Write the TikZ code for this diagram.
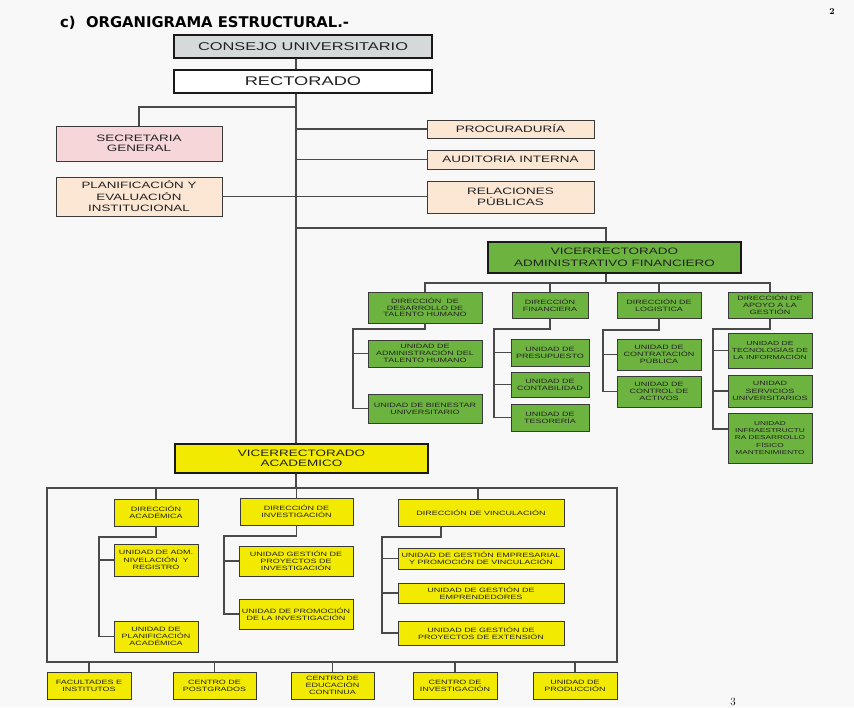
\documentclass[tikz,border=0pt]{standalone}
\usepackage{fontspec}
\newfontfamily\wf[FakeStretch=1.45]{Liberation Sans}
\newfontfamily\titlefont{DejaVu Sans}
\newcommand\myfs[2]{\fontsize{#1}{#2}\selectfont}
\definecolor{bgcol}{HTML}{F8F8F8}
\definecolor{lncol}{HTML}{4A4A4A}
\definecolor{bdcol}{HTML}{3A3A3A}
\definecolor{txcol}{HTML}{222222}
\definecolor{cgray}{HTML}{D5D9D9}
\definecolor{cpink}{HTML}{F6D6D9}
\definecolor{cpeach}{HTML}{FCE6D4}
\definecolor{cgreen}{HTML}{6DB33F}
\definecolor{cyellow}{HTML}{F2EA00}
\tikzset{
  ln/.style={draw=lncol, line width=1.1pt},
  bx/.style={draw=bdcol, line width=0.9pt, inner sep=0.5pt, align=center, text=txcol, font=\wf\myfs{6.2}{7.2}},
  bigbx/.style={bx, draw=black!90, line width=1.8pt},
  gr/.style={bx, fill=cgreen},
  ye/.style={bx, fill=cyellow},
  pk/.style={bx, fill=cpink, font=\wf\myfs{9.3}{10.5}},
  pc/.style={bx, fill=cpeach, font=\wf\myfs{9.3}{10.5}},
}
\begin{document}
\begin{tikzpicture}[x=1pt,y=-1pt]
\fill[bgcol] (0,0) rectangle (854,707);
\useasboundingbox (0,0) rectangle (854,707);

% title and page numbers
\node[anchor=west, inner sep=0pt, font=\titlefont\bfseries\myfs{14.8}{16}] (title) at (60,23) {c)\ \ ORGANIGRAMA ESTRUCTURAL.-};
\node[inner sep=0pt, font=\bfseries\myfs{9}{10}] (pg2) at (832,12) {2};
\node[inner sep=0pt, font=\myfs{11}{12}] (pg3) at (733,702) {3};

% top
\node[bigbx, fill=cgray, minimum width=258pt, minimum height=23pt, font=\wf\myfs{11.3}{13}] (cons) at (303,46.5) {CONSEJO UNIVERSITARIO};
\node[bigbx, fill=white, minimum width=258pt, minimum height=23pt, font=\wf\myfs{12.6}{14}] (rect) at (303,81.5) {RECTORADO};

\node[pk, minimum width=166pt, minimum height=35pt] (sec) at (139,143.5) {SECRETARIA\\GENERAL};
\node[pc, minimum width=166pt, minimum height=39pt, font=\wf\myfs{9.2}{11.5}] (plan) at (139,196.5) {PLANIFICACIÓN Y\\EVALUACIÓN\\INSTITUCIONAL};
\node[pc, minimum width=167pt, minimum height=18pt] (proc) at (510.5,129) {PROCURADURÍA};
\node[pc, minimum width=167pt, minimum height=19pt] (aud) at (510.5,159.5) {AUDITORIA INTERNA};
\node[pc, minimum width=167pt, minimum height=32pt] (rel) at (510.5,197) {RELACIONES\\PÚBLICAS};

% administrative branch
\node[bigbx, fill=cgreen, minimum width=253pt, minimum height=31pt, font=\wf\myfs{9.3}{11.5}] (vadm) at (614.5,257.5) {VICERRECTORADO\\ADMINISTRATIVO FINANCIERO};
\node[gr, minimum width=114pt, minimum height=31pt, font=\wf\myfs{6.2}{6.8}] (tal) at (425,307.5) {DIRECCIÓN~~DE\\DESARROLLO DE\\TALENTO HUMANO};
\node[gr, minimum width=76pt, minimum height=26pt] (fin) at (550,305) {DIRECCIÓN\\FINANCIERA};
\node[gr, minimum width=84pt, minimum height=26pt] (log) at (659,305) {DIRECCIÓN DE\\LOGISTICA};
\node[gr, minimum width=84pt, minimum height=26pt, font=\wf\myfs{6.2}{7.3}] (apo) at (770,305) {DIRECCIÓN DE\\APOYO A LA\\GESTIÓN};

\node[gr, minimum width=114pt, minimum height=27pt] (uat) at (425,353.5) {UNIDAD DE\\ADMINISTRACIÓN DEL\\TALENTO HUMANO};
\node[gr, minimum width=114pt, minimum height=29pt] (bie) at (425,408.5) {UNIDAD DE BIENESTAR\\UNIVERSITARIO};
\node[gr, minimum width=78pt, minimum height=27pt] (pre) at (550,352.5) {UNIDAD DE\\PRESUPUESTO};
\node[gr, minimum width=78pt, minimum height=25pt] (con) at (550,384.5) {UNIDAD DE\\CONTABILIDAD};
\node[gr, minimum width=78pt, minimum height=27pt] (tes) at (550,417.5) {UNIDAD DE\\TESORERÍA};
\node[gr, minimum width=84pt, minimum height=31pt] (ctr) at (659,354.5) {UNIDAD DE\\CONTRATACIÓN\\PÚBLICA};
\node[gr, minimum width=84pt, minimum height=31pt] (act) at (659,391.5) {UNIDAD DE\\CONTROL DE\\ACTIVOS};
\node[gr, minimum width=84pt, minimum height=35pt, font=\wf\myfs{5.9}{7.3}] (tec) at (770,350.5) {UNIDAD DE\\TECNOLOGÍAS DE\\LA INFORMACIÓN};
\node[gr, minimum width=84pt, minimum height=32pt] (ser) at (770,391) {UNIDAD\\SERVICIOS\\UNIVERSITARIOS};
\node[gr, minimum width=84pt, minimum height=50pt, font=\wf\myfs{5.7}{7.3}] (inf) at (770,438) {UNIDAD\\INFRAESTRUCTU\\RA DESARROLLO\\FÍSICO\\MANTENIMIENTO};

% academic branch
\node[bigbx, fill=cyellow, minimum width=253pt, minimum height=29pt, font=\wf\myfs{9.3}{10.5}] (vacad) at (301.5,458.5) {VICERRECTORADO\\ACADEMICO};
\node[ye, minimum width=84pt, minimum height=27pt] (dac) at (156,512.5) {DIRECCIÓN\\ACADÉMICA};
\node[ye, minimum width=113pt, minimum height=27pt] (din) at (296.5,511.5) {DIRECCIÓN DE\\INVESTIGACIÓN};
\node[ye, minimum width=166pt, minimum height=27pt] (dvi) at (481,512.5) {DIRECCIÓN DE VINCULACIÓN};

\node[ye, minimum width=84pt, minimum height=32pt] (uad) at (156,560) {UNIDAD DE ADM.\\NIVELACIÓN~~Y\\REGISTRO};
\node[ye, minimum width=84pt, minimum height=31pt] (upl) at (156,636.5) {UNIDAD DE\\PLANIFICACIÓN\\ACADÉMICA};
\node[ye, minimum width=114pt, minimum height=30pt] (ugp) at (296,561) {UNIDAD GESTIÓN DE\\PROYECTOS DE\\INVESTIGACIÓN};
\node[ye, minimum width=114pt, minimum height=30pt] (upr) at (296,614) {UNIDAD DE PROMOCIÓN\\DE LA INVESTIGACIÓN};
\node[ye, minimum width=166pt, minimum height=21pt] (uge) at (481,558.5) {UNIDAD DE GESTIÓN EMPRESARIAL\\Y PROMOCIÓN DE VINCULACIÓN};
\node[ye, minimum width=166pt, minimum height=20pt] (uem) at (481,593) {UNIDAD DE GESTIÓN DE\\EMPRENDEDORES};
\node[ye, minimum width=166pt, minimum height=24pt] (uex) at (481,633) {UNIDAD DE GESTIÓN DE\\PROYECTOS DE EXTENSIÓN};

\node[ye, minimum width=84pt, minimum height=27pt] (fac) at (89,685.5) {FACULTADES E\\INSTITUTOS};
\node[ye, minimum width=83pt, minimum height=27pt] (pos) at (214.5,685.5) {CENTRO DE\\POSTGRADOS};
\node[ye, minimum width=83pt, minimum height=27pt] (edu) at (332.5,685.5) {CENTRO DE\\EDUCACIÓN\\CONTINUA};
\node[ye, minimum width=84pt, minimum height=27pt] (cin) at (455,685.5) {CENTRO DE\\INVESTIGACIÓN};
\node[ye, minimum width=84pt, minimum height=27pt] (pro) at (575,685.5) {UNIDAD DE\\PRODUCCIÓN};

% junction coordinates
\coordinate (T) at (296,0);
\coordinate (Ts) at (296,107);
\coordinate (Ta) at (296,228);
\coordinate (A) at (606,0);
\coordinate (H) at (606,283);
\coordinate (Lt) at (353,329);
\coordinate (Lf) at (494,329);
\coordinate (Ll) at (603,330);
\coordinate (La) at (713,329);
\coordinate (K) at (296,488);
\coordinate (BL) at (47,488);
\coordinate (BR2) at (617,662);
\coordinate (BL2) at (47,662);
\coordinate (Lac) at (99,537);
\coordinate (Lin) at (224,536);
\coordinate (V) at (441,0);
\coordinate (Lvi) at (382,537);

% connectors
\draw[ln] (T |- cons.south) -- (T |- rect.north);
\draw[ln] (T |- rect.south) -- (T |- vacad.north);
\draw[ln] (sec.north) |- (Ts);
\draw[ln] (T |- proc.west) -- (proc.west);
\draw[ln] (T |- aud.west) -- (aud.west);
\draw[ln] (plan.east) -- (plan.east -| rel.west);
\draw[ln] (Ta) -| (A |- vadm.north);

\draw[ln] (A |- vadm.south) -- (H);
\draw[ln] (tal.north) |- (H) -| (apo.north);
\draw[ln] (fin.north) -- (fin.north |- H);
\draw[ln] (log.north) -- (log.north |- H);

\draw[ln] (tal.south) |- (Lt) |- (bie.west);
\draw[ln] (Lt |- uat.west) -- (uat.west);
\draw[ln] (fin.south) |- (Lf) |- (tes.west);
\draw[ln] (Lf |- pre.west) -- (pre.west);
\draw[ln] (Lf |- con.west) -- (con.west);
\draw[ln] (log.south) |- (Ll) |- (act.west);
\draw[ln] (Ll |- ctr.west) -- (ctr.west);
\draw[ln] (apo.south) |- (La) |- ([yshift=9pt]inf.west);
\draw[ln] (La |- tec.west) -- (tec.west);
\draw[ln] (La |- ser.west) -- (ser.west);

\draw[ln] (T |- vacad.south) -- (K);
\draw[ln] (BL) rectangle (BR2);
\draw[ln] (dac.north) -- (dac.north |- BL);
\draw[ln] (din.north) -- (din.north |- BL);
\draw[ln] ([xshift=-3pt]dvi.north) -- ([xshift=-3pt]dvi.north |- BL);
\draw[ln] (fac.north) -- (fac.north |- BL2);
\draw[ln] (pos.north) -- (pos.north |- BL2);
\draw[ln] (edu.north) -- (edu.north |- BL2);
\draw[ln] (cin.north) -- (cin.north |- BL2);
\draw[ln] (pro.north) -- (pro.north |- BL2);

\draw[ln] (dac.south) |- (Lac) |- (upl.west);
\draw[ln] (Lac |- uad.west) -- (uad.west);
\draw[ln] (din.south) |- (Lin) |- (upr.west);
\draw[ln] (Lin |- ugp.west) -- (ugp.west);
\draw[ln] (V |- dvi.south) |- (Lvi) |- (uex.west);
\draw[ln] (Lvi |- uge.west) -- (uge.west);
\draw[ln] (Lvi |- uem.west) -- (uem.west);
\end{tikzpicture}
\end{document}
